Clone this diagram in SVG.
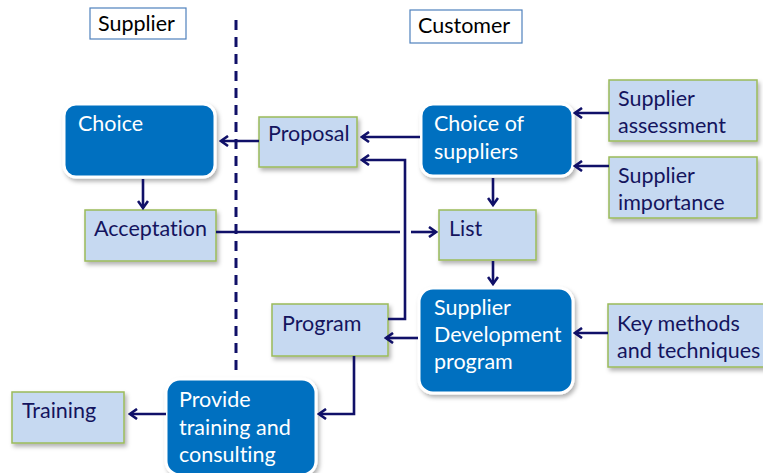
<svg xmlns="http://www.w3.org/2000/svg" width="763" height="473" viewBox="0 0 763 473">
<style>
.lbl{fill:#fff;stroke:#4F81BD;stroke-width:1.2}
.lt{fill:#C6D9F1;stroke:#9BBB59;stroke-width:1.5}
.dk{fill:#0070C0;stroke:#fff;stroke-width:3}
text{font-family:Lato,"Open Sans","Liberation Sans",sans-serif;font-size:21.5px;font-variant-ligatures:none}
.tl{fill:#000}
.tn{fill:#14145E}
.tw{fill:#fff}
.c{fill:none;stroke:#101068;stroke-width:2.6}
</style>
<defs>
<marker id="ah" markerWidth="12" markerHeight="12" refX="10" refY="6" orient="auto" markerUnits="userSpaceOnUse">
<path d="M3,1 L10,6 L3,11" fill="none" stroke="#101068" stroke-width="2.6"/>
</marker>
<filter id="sh" x="-10%" y="-10%" width="130%" height="140%">
<feDropShadow dx="2" dy="3" stdDeviation="2" flood-color="#000" flood-opacity="0.3"/>
</filter>
</defs>
<rect width="763" height="473" fill="#fff"/>
<g id="divider"><line x1="236" y1="20" x2="236" y2="370" stroke="#101068" stroke-width="3" stroke-dasharray="10,7"/></g>
<g id="supplier-label"><rect class="lbl" x="90" y="8" width="96" height="31"/><text class="tl" x="98" y="31">Supplier</text></g>
<g id="customer-label"><rect class="lbl" x="410" y="10" width="112" height="33"/><text class="tl" x="418" y="33">Customer</text></g>
<g id="choice"><rect class="dk" filter="url(#sh)" x="64" y="104" width="151" height="73" rx="12"/><text class="tw" x="78" y="131">Choice</text></g>
<g id="proposal"><rect class="lt" filter="url(#sh)" x="259" y="117" width="98" height="50"/><text class="tn" x="268" y="141">Proposal</text></g>
<g id="acceptation"><rect class="lt" filter="url(#sh)" x="85" y="210" width="131" height="51"/><text class="tn" x="94" y="236">Acceptation</text></g>
<g id="choice-of-suppliers"><rect class="dk" filter="url(#sh)" x="421" y="104" width="152" height="72" rx="12"/><text class="tw" x="434" y="131">Choice of</text><text class="tw" x="434" y="159">suppliers</text></g>
<g id="supplier-assessment"><rect class="lt" filter="url(#sh)" x="609" y="80" width="148" height="61"/><text class="tn" x="618" y="106">Supplier</text><text class="tn" x="618" y="133">assessment</text></g>
<g id="supplier-importance"><rect class="lt" filter="url(#sh)" x="609" y="157" width="148" height="61"/><text class="tn" x="618" y="183">Supplier</text><text class="tn" x="618" y="210">importance</text></g>
<g id="list"><rect class="lt" filter="url(#sh)" x="439" y="210" width="97" height="50"/><text class="tn" x="449" y="236">List</text></g>
<g id="supplier-development"><rect class="dk" filter="url(#sh)" x="419" y="288" width="154" height="105" rx="14"/><text class="tw" x="434" y="315">Supplier</text><text class="tw" x="434" y="342">Development</text><text class="tw" x="434" y="369">program</text></g>
<g id="key-methods"><rect class="lt" filter="url(#sh)" x="608" y="304" width="160" height="63"/><text class="tn" x="617" y="331">Key methods</text><text class="tn" x="617" y="358">and techniques</text></g>
<g id="program"><rect class="lt" filter="url(#sh)" x="272" y="304" width="116" height="52"/><text class="tn" x="282" y="331">Program</text></g>
<g id="provide-training"><rect class="dk" filter="url(#sh)" x="166" y="379" width="150" height="96" rx="14"/><text class="tw" x="179" y="407">Provide</text><text class="tw" x="179" y="435">training and</text><text class="tw" x="179" y="462">consulting</text></g>
<g id="training"><rect class="lt" filter="url(#sh)" x="12" y="392" width="112" height="51"/><text class="tn" x="22" y="418">Training</text></g>
<g id="connectors">
<line class="c" x1="259" y1="141" x2="221" y2="141" marker-end="url(#ah)"/>
<line class="c" x1="143" y1="179" x2="143" y2="208" marker-end="url(#ah)"/>
<line class="c" x1="216" y1="232" x2="400" y2="232"/>
<line class="c" x1="411" y1="232" x2="436" y2="232" marker-end="url(#ah)"/>
<line class="c" x1="420" y1="137" x2="362" y2="137" marker-end="url(#ah)"/>
<polyline class="c" points="388,319 405,319 405,160 362,160" marker-end="url(#ah)"/>
<line class="c" x1="609" y1="113" x2="575" y2="113" marker-end="url(#ah)"/>
<line class="c" x1="609" y1="166" x2="575" y2="166" marker-end="url(#ah)"/>
<line class="c" x1="493" y1="178" x2="493" y2="205" marker-end="url(#ah)"/>
<line class="c" x1="493" y1="261" x2="493" y2="284" marker-end="url(#ah)"/>
<line class="c" x1="608" y1="333" x2="575" y2="333" marker-end="url(#ah)"/>
<line class="c" x1="418" y1="338" x2="386" y2="338" marker-end="url(#ah)"/>
<polyline class="c" points="354,356 354,414 319,414" marker-end="url(#ah)"/>
<line class="c" x1="166" y1="414" x2="130" y2="414" marker-end="url(#ah)"/>
</g>
</svg>
